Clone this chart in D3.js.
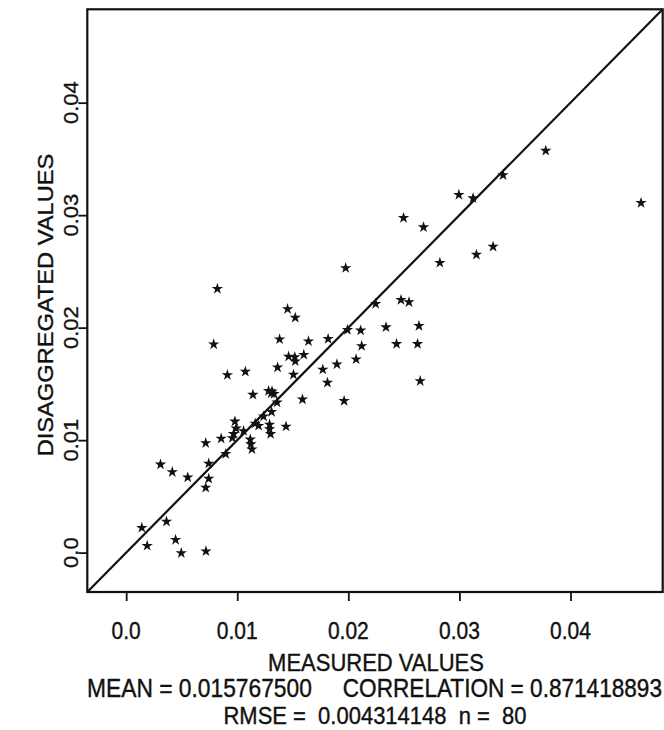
<!DOCTYPE html>
<html>
<head>
<meta charset="utf-8">
<script src="https://cdn.jsdelivr.net/npm/d3@7"></script>
<style>
  html, body { margin: 0; padding: 0; background: #fff; }
  svg { display: block; }
  text { font-family: "Liberation Sans", Arial, Helvetica, sans-serif; fill: #111; stroke: #111; stroke-width: 0.35; }
</style>
</head>
<body>
<div id="chart"></div>
<script>
// Measured vs. disaggregated values (n = 80)
const measured = [
  0.03777, 0.03393, 0.02995, 0.03123, 0.02497, 0.02677, 0.02824, 0.03153, 0.03303, 0.04635,
  0.01976, 0.00821, 0.02474, 0.02546, 0.02246, 0.02111, 0.02339, 0.02636, 0.02120, 0.02434,
  0.02623, 0.02647, 0.01453, 0.01522, 0.01381, 0.01641, 0.01818, 0.01992, 0.00788, 0.01462,
  0.01518, 0.01522, 0.01599, 0.02070, 0.01770, 0.01897, 0.01363, 0.01506, 0.01073, 0.00911,
  0.01812, 0.01141, 0.01282, 0.01306, 0.01331, 0.01587, 0.01962, 0.01358, 0.01309, 0.01237,
  0.01161, 0.01439, 0.00979, 0.00990, 0.00967, 0.00956, 0.01291, 0.01291, 0.01300, 0.01117,
  0.01122, 0.01132, 0.00855, 0.00716, 0.00896, 0.00743, 0.00309, 0.00415, 0.00554, 0.00743,
  0.00716, 0.00141, 0.00363, 0.00189, 0.00445, 0.00496, 0.00718, 0.01192, 0.01057, 0.01313
];
const disaggregated = [
  0.03573, 0.03356, 0.03181, 0.03151, 0.02976, 0.02893, 0.02577, 0.02649, 0.02720, 0.03109,
  0.02530, 0.02345, 0.02247, 0.02227, 0.02212, 0.01975, 0.02004, 0.02016, 0.01837, 0.01855,
  0.01855, 0.01525, 0.02165, 0.02089, 0.01897, 0.01879, 0.01900, 0.01980, 0.01852, 0.01743,
  0.01738, 0.01701, 0.01759, 0.01719, 0.01628, 0.01674, 0.01647, 0.01582, 0.01609, 0.01579,
  0.01511, 0.01404, 0.01438, 0.01416, 0.01411, 0.01362, 0.01349, 0.01335, 0.01251, 0.01211,
  0.01148, 0.01121, 0.01166, 0.01104, 0.01055, 0.01019, 0.01139, 0.01099, 0.01055, 0.01006,
  0.00964, 0.00919, 0.01014, 0.00974, 0.00878, 0.00792, 0.00784, 0.00716, 0.00669, 0.00658,
  0.00578, 0.00221, 0.00276, 0.00061, 0.00114, -0.00004, 0.00012, 0.01128, 0.01081, 0.01434
];
const tickValues = [0, 0.01, 0.02, 0.03, 0.04];
const tickLabels = ["0.0", "0.01", "0.02", "0.03", "0.04"];
const axisDomain = [-0.0035, 0.0483];
const xTitle = "MEASURED VALUES";
const yTitle = "DISAGGREGATED VALUES";
const meanText = "MEAN = 0.015767500";
const corrText = "CORRELATION = 0.871418893";
const rmseText = "RMSE =  0.004314148  n =  80";

const W = 664, H = 730;
const plot = { left: 87.3, right: 662.7, top: 9.3, bottom: 592 };
const stretch = 1.1; // glyphs are slightly taller than wide

const svg = d3.select("#chart").append("svg")
  .attr("width", W).attr("height", H);

const x = d3.scaleLinear().domain(axisDomain).range([plot.left, plot.right]);
const y = d3.scaleLinear().domain(axisDomain).range([plot.bottom, plot.top]);

svg.append("defs").append("clipPath").attr("id", "plotClip")
  .append("rect")
  .attr("x", plot.left).attr("y", plot.top)
  .attr("width", plot.right - plot.left).attr("height", plot.bottom - plot.top);

// Axes with outward ticks
const fmt = (d) => tickLabels[tickValues.indexOf(d)];
const xAxis = svg.append("g")
  .attr("transform", `translate(0,${plot.bottom})`)
  .call(d3.axisBottom(x).tickValues(tickValues).tickSize(9).tickFormat(fmt));
xAxis.select(".domain").remove();
xAxis.selectAll(".tick line").attr("stroke", "#111").attr("stroke-width", 1.8);
xAxis.selectAll(".tick text").remove();

const yAxis = svg.append("g")
  .attr("transform", `translate(${plot.left},0)`)
  .call(d3.axisLeft(y).tickValues(tickValues).tickSize(9).tickFormat(fmt));
yAxis.select(".domain").remove();
yAxis.selectAll(".tick line").attr("stroke", "#111").attr("stroke-width", 1.8);
yAxis.selectAll(".tick text").remove();

// Tick labels
svg.append("g").selectAll("text")
  .data(tickValues).join("text")
  .attr("transform", d => `translate(${x(d)},639) scale(1,${stretch})`)
  .attr("text-anchor", "middle")
  .attr("font-size", 21)
  .text(fmt);

svg.append("g").selectAll("text")
  .data(tickValues).join("text")
  .attr("transform", d => `translate(78,${y(d)}) scale(1,${stretch}) rotate(-90)`)
  .attr("text-anchor", "middle")
  .attr("font-size", 20)
  .text(fmt);

// Axis titles and summary statistics
svg.append("text")
  .attr("transform", `translate(376,671) scale(1,${stretch})`)
  .attr("text-anchor", "middle").attr("font-size", 22)
  .text(xTitle);

svg.append("text")
  .attr("transform", `translate(53,305) scale(1,${stretch}) rotate(-90)`)
  .attr("text-anchor", "middle").attr("font-size", 21.5)
  .text(yTitle);

svg.append("text")
  .attr("transform", `translate(87,697) scale(1,${stretch})`)
  .attr("text-anchor", "start").attr("font-size", 22.8)
  .text(meanText);

svg.append("text")
  .attr("transform", `translate(662,697) scale(1,${stretch})`)
  .attr("text-anchor", "end").attr("font-size", 22.6)
  .text(corrText);

svg.append("text")
  .attr("transform", `translate(375,724) scale(1,${stretch})`)
  .attr("text-anchor", "middle").attr("font-size", 22)
  .attr("xml:space", "preserve").style("white-space", "pre")
  .text(rmseText);

// 1:1 reference line
const lo = axisDomain[0], hi = axisDomain[1];
svg.append("line")
  .attr("clip-path", "url(#plotClip)")
  .attr("x1", x(lo)).attr("y1", y(lo))
  .attr("x2", x(hi)).attr("y2", y(hi))
  .attr("stroke", "#111").attr("stroke-width", 2.2);

// Points
const star = d3.symbol().type(d3.symbolStar).size(40);
svg.append("g").selectAll("path")
  .data(d3.range(measured.length)).join("path")
  .attr("transform", i => `translate(${x(measured[i])},${y(disaggregated[i])})`)
  .attr("d", star)
  .attr("fill", "#111");

// Frame
svg.append("rect")
  .attr("x", plot.left).attr("y", plot.top)
  .attr("width", plot.right - plot.left).attr("height", plot.bottom - plot.top)
  .attr("fill", "none").attr("stroke", "#111").attr("stroke-width", 2.2);
</script>
</body>
</html>
